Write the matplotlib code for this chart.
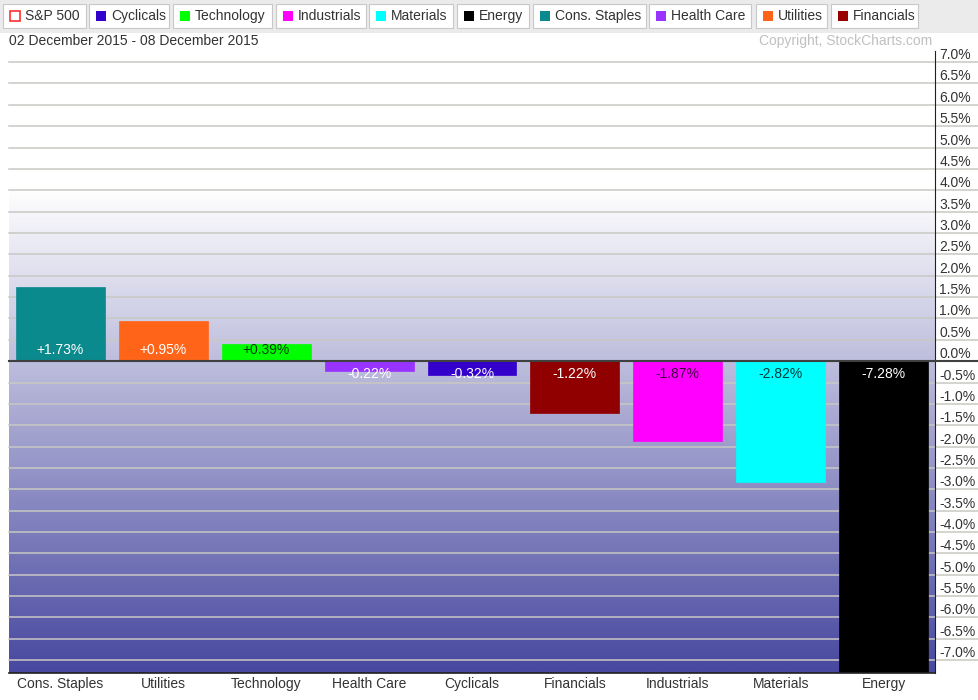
import numpy as np
import matplotlib
matplotlib.use("Agg")
import matplotlib.pyplot as plt
from matplotlib.patches import Rectangle
from matplotlib.colors import LinearSegmentedColormap

plt.rcParams['font.family'] = ['Liberation Sans', 'DejaVu Sans']

sectors = ['Cons. Staples', 'Utilities', 'Technology', 'Health Care', 'Cyclicals',
           'Financials', 'Industrials', 'Materials', 'Energy']
changes = [1.73, 0.95, 0.39, -0.22, -0.32, -1.22, -1.87, -2.82, -7.28]
bar_colors = ['#0a8a8d', '#ff6418', '#00ff00', '#9933ff', '#3300cc',
              '#900000', '#ff00ff', '#00ffff', '#000000']
label_colors = ['white', 'white', '#0a3a0a', 'white', 'white',
                'white', '#400040', '#003a3a', 'white']

legend_names = ['S&P 500', 'Cyclicals', 'Technology', 'Industrials', 'Materials', 'Energy',
                'Cons. Staples', 'Health Care', 'Utilities', 'Financials']
legend_colors = [None, '#3300cc', '#00ff00', '#ff00ff', '#00ffff', '#000000',
                 '#0a8a8d', '#9933ff', '#ff6418', '#990000']
legend_x = [3, 89, 173, 276, 369, 457, 533, 649, 756, 831]
legend_w = [83, 80, 99, 90, 84, 72, 113, 102, 71, 87]

yticks = np.arange(-7.0, 7.01, 0.5)

W, H = 979, 700
fig = plt.figure(figsize=(W / 100, H / 100), dpi=100)
fig.patch.set_facecolor('white')

def fx(x):
    return x / W

def fy(y):
    return 1 - y / H

# header band with legend buttons
fig.patches.append(Rectangle((0, fy(33)), 1, 33 / H, transform=fig.transFigure,
                             facecolor='#ebebeb', edgecolor='none', zorder=0))
for name, col, x0, w in zip(legend_names, legend_colors, legend_x, legend_w):
    fig.patches.append(Rectangle((fx(x0 + 1), fy(29)), w / W, 24 / H, transform=fig.transFigure,
                                 facecolor='#b0b0b0', edgecolor='none', zorder=1))
    fig.patches.append(Rectangle((fx(x0), fy(28)), w / W, 24 / H, transform=fig.transFigure,
                                 facecolor='white', edgecolor='#c8c8c8', lw=0.8, zorder=2))
    if col is None:
        fig.patches.append(Rectangle((fx(x0 + 7), fy(21)), 10 / W, 10 / H, transform=fig.transFigure,
                                     facecolor='white', edgecolor='#ff3030', lw=1.2, zorder=3))
    else:
        fig.patches.append(Rectangle((fx(x0 + 7), fy(21)), 10 / W, 10 / H, transform=fig.transFigure,
                                     facecolor=col, edgecolor='none', zorder=3))
    fig.text(fx(x0 + 22), fy(16), name, fontsize=10, color='#333333', va='center', ha='left', zorder=4)

fig.text(fx(9), fy(41), '02 December 2015 - 08 December 2015', fontsize=10,
         color='#333333', va='center', ha='left')
fig.text(fx(932), fy(41), 'Copyright, StockCharts.com', fontsize=10,
         color='#c0c0c0', va='center', ha='right')

ax = fig.add_axes([fx(9), fy(673), (935 - 9) / W, (673 - 51) / H])
ymin, ymax = -7.30, 7.26
ax.set_xlim(-0.5, len(sectors) - 0.5)
ax.set_ylim(ymin, ymax)

# background gradient: white at the top, deep blue-violet at the bottom
cmap = LinearSegmentedColormap.from_list('bg', [(0.0, '#4848a0'), (0.78, '#ffffff'), (1.0, '#ffffff')])
grad = np.linspace(0, 1, 400).reshape(-1, 1)
ax.imshow(grad, aspect='auto', cmap=cmap, origin='lower',
          extent=[-0.5, len(sectors) - 0.5, ymin, ymax], zorder=0)

ext = (W - 9) / 926
for t in yticks:
    if abs(t) < 1e-9:
        continue
    ax.axhline(t, xmin=0, xmax=ext, color='#c8c8c4', lw=1.1, clip_on=False, zorder=1)

x = np.arange(len(sectors))
ax.bar(x, changes, width=0.865, color=bar_colors, edgecolor=bar_colors, lw=0.5, zorder=2)
ax.axhline(0, xmin=0, xmax=ext, color='#404040', lw=1.5, clip_on=False, zorder=3)

for xi, v, c in zip(x, changes, label_colors):
    if v >= 0:
        ax.annotate(f'+{v:.2f}%', (xi, 0), xytext=(0, 3), textcoords='offset points',
                    ha='center', va='bottom', fontsize=10, color=c, zorder=4)
    else:
        ax.annotate(f'{v:.2f}%', (xi, 0), xytext=(0, -4), textcoords='offset points',
                    ha='center', va='top', fontsize=10, color=c, zorder=4)

ax.yaxis.tick_right()
ax.set_yticks(yticks)
ax.set_yticklabels([f'{t:.1f}%' if abs(t) > 1e-9 else '0.0%' for t in yticks])
for lab in ax.get_yticklabels():
    lab.set_va('bottom')
ax.tick_params(axis='y', length=0, pad=3, labelsize=10, labelcolor='#333333')
ax.set_xticks(x)
ax.set_xticklabels(sectors)
ax.tick_params(axis='x', length=0, pad=3, labelsize=10, labelcolor='#333333')

for s in ['top', 'left']:
    ax.spines[s].set_visible(False)
ax.spines['right'].set_color('#202020')
ax.spines['bottom'].set_color('#202020')
ax.spines['bottom'].set_linewidth(1.2)

fig.savefig('out.png', dpi=100)
